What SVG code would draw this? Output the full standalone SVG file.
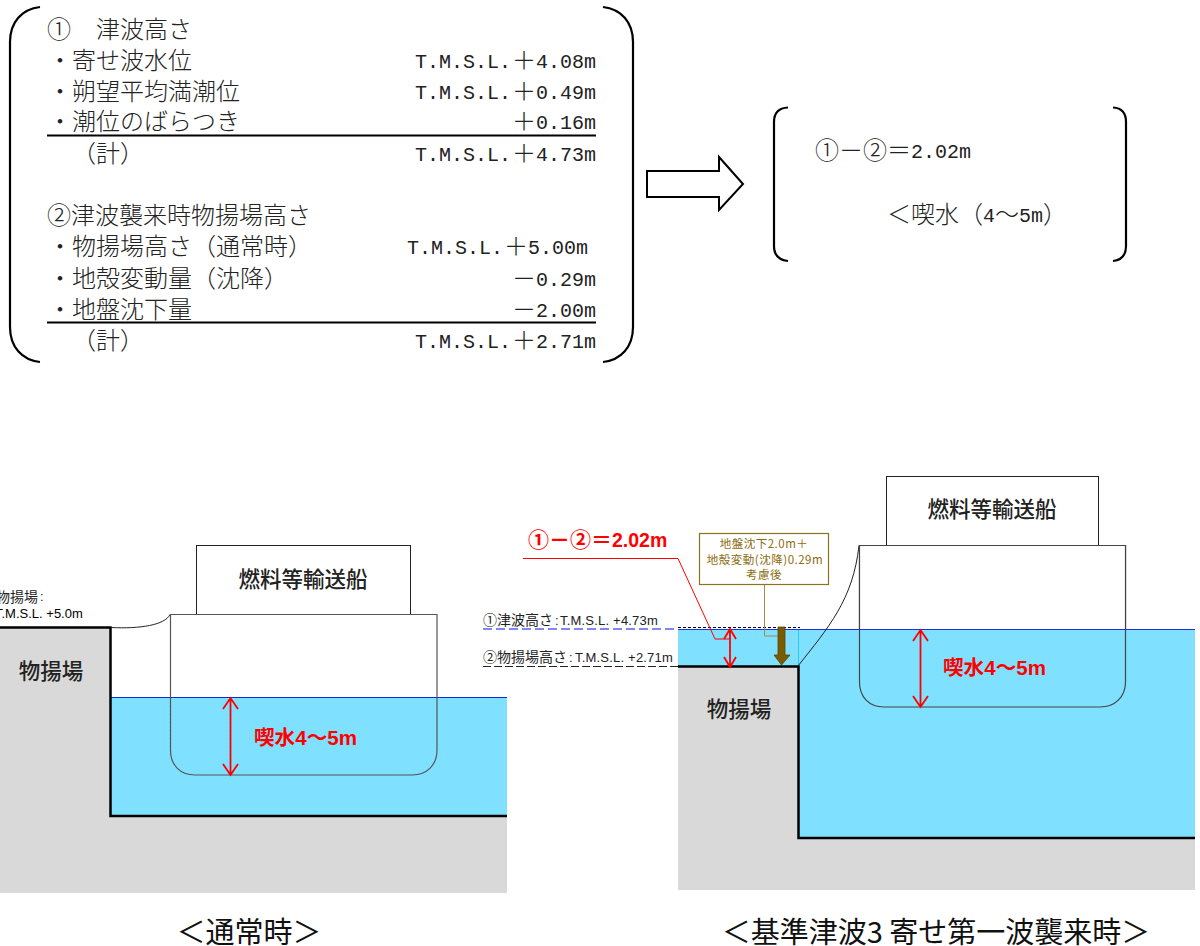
<svg xmlns="http://www.w3.org/2000/svg" width="1200" height="946" viewBox="0 0 1200 946">
<style>
text{font-family:"Noto Sans CJK JP","Liberation Sans",sans-serif;fill:#000}
.j{font-size:24px;fill:#222;font-weight:300}
.l{font-family:"Liberation Mono",monospace;font-size:20px;fill:#222}
.lab{font-size:14px;fill:#222}
.ll{font-family:"Liberation Sans",sans-serif;font-size:13px}
.big{font-size:21.500px;fill:#222;text-anchor:middle;font-weight:500}
.cap{font-size:29px;fill:#111;text-anchor:middle}
.red{fill:#f00;font-weight:700}
.box{font-size:11.500px;text-anchor:middle;fill:#8a6d10;letter-spacing:.5px}
.br{fill:none;stroke:#000;stroke-width:2.2}
.rule{stroke:#000;stroke-width:2}
.wall{fill:none;stroke:#000;stroke-width:2.5}
.hull{fill:none;stroke:#555;stroke-width:1.2}
.ra{fill:none;stroke:#f00;stroke-width:1.8}
.water{fill:url(#dots)}
.ground{fill:#d9d9d9}
</style>
<defs>
<pattern id="dots" width="4" height="4" patternUnits="userSpaceOnUse">
<rect width="4" height="4" fill="#7de0ff"/>
<rect width="1" height="1" fill="#8ae4ff"/>
<rect x="2" y="2" width="1" height="1" fill="#8ae4ff"/>
</pattern>
</defs>
<g id="calc-panel">
<path class="br" d="M40 7C22 9 10 22 10 42V327C10 347 22 360 40 362"/>
<path class="br" d="M603 7C621 9 633 22 633 42V327C633 347 621 360 603 362"/>
<text class="j" x="47" y="38">①</text><text class="j" x="96" y="38">津波高さ</text>
<text class="j" x="48" y="69">・寄せ波水位</text>
<text class="j" x="48" y="100">・朔望平均満潮位</text>
<text class="j" x="48" y="130">・潮位のばらつき</text>
<text class="j" x="72" y="162">（計）</text>
<text class="j" x="47" y="224">②津波襲来時物揚場高さ</text>
<text class="j" x="48" y="255">・物揚場高さ（通常時）</text>
<text class="j" x="48" y="287">・地殻変動量（沈降）</text>
<text class="j" x="48" y="318">・地盤沈下量</text>
<text class="j" x="72" y="349">（計）</text>
<g>
<text class="l" x="415" y="68">T.M.S.L.</text><text class="j" x="512" y="69">＋</text><text class="l" x="536" y="68">4.08m</text>
<text class="l" x="415" y="99">T.M.S.L.</text><text class="j" x="512" y="100">＋</text><text class="l" x="536" y="99">0.49m</text>
<text class="j" x="512" y="130">＋</text><text class="l" x="536" y="129">0.16m</text>
<text class="l" x="415" y="161">T.M.S.L.</text><text class="j" x="512" y="162">＋</text><text class="l" x="536" y="161">4.73m</text>
<text class="l" x="407" y="254">T.M.S.L.</text><text class="j" x="504" y="255">＋</text><text class="l" x="528" y="254">5.00m</text>
<text class="j" x="512" y="287">－</text><text class="l" x="536" y="286">0.29m</text>
<text class="j" x="512" y="318">－</text><text class="l" x="536" y="317">2.00m</text>
<text class="l" x="415" y="348">T.M.S.L.</text><text class="j" x="512" y="349">＋</text><text class="l" x="536" y="348">2.71m</text>
</g>
<line class="rule" x1="47" y1="135.500" x2="596" y2="135.500"/>
<line class="rule" x1="47" y1="322.500" x2="596" y2="322.500"/>
</g>
<g id="result-arrow"><path d="M647 171H719V157L743 184L719 210V197H647Z" fill="#fff" stroke="#000" stroke-width="2"/></g>
<g id="result-panel">
<path class="br" d="M788 107.500C779 108 774 113 774 122V246C774 255 779 260 788 261"/>
<path class="br" d="M1113 107.500C1122 108 1126 113 1126 122V246C1126 255 1122 260 1113 261"/>
<text class="j" x="815" y="159">①－②＝</text><text class="l" x="911" y="158">2.02m</text>
<text class="j" x="887" y="223">＜喫水（</text><text class="l" x="983" y="222">4</text><text class="j" x="995" y="223">～</text><text class="l" x="1019" y="222">5m</text><text class="j" x="1043" y="223">）</text>
</g>
<g id="normal-scene">
<rect class="ground" x="0" y="627" width="110" height="266"/>
<rect class="ground" x="110" y="816" width="397" height="77"/>
<rect class="water" x="110" y="697" width="397" height="119"/>
<line x1="110" y1="697.500" x2="507" y2="697.500" stroke="#0a28e0" stroke-width="1.2"/>
<path class="wall" d="M0 627.500H110.500V816H507"/>
<path d="M111 627.500C140 629 165 625 170 614.500" fill="none" stroke="#222" stroke-width="1"/>
<rect x="196.500" y="545.500" width="214" height="69" fill="#fff" stroke="#222" stroke-width="1"/>
<path class="hull" d="M170.500 614.500H437V750C437 765 427 775 412 775H195C180 775 170.500 765 170.500 750Z"/>
<g class="ra"><path d="M230.500 698V775M223 709L230.500 698L238 709M223 764L230.500 775L238 764"/></g>
<text class="big" x="51" y="679">物揚場</text>
<text class="big" x="303" y="587">燃料等輸送船</text>
<text class="red" x="254" y="745" style="font-size:20.600px">喫水<tspan style="font-family:'Liberation Sans'">4</tspan>～<tspan style="font-family:'Liberation Sans'">5m</tspan></text>
<text class="lab" x="-4" y="602">物揚場</text><text class="ll" x="40" y="601" style="fill:#222">:</text>
<text class="ll" x="-5" y="618">T.M.S.L. +5.0m</text>
<text class="cap" x="249" y="943">＜通常時＞</text>
</g>
<g id="tsunami-scene">
<rect class="ground" x="678" y="666" width="120" height="224"/>
<rect class="ground" x="798" y="838" width="397" height="52"/>
<rect class="water" x="678" y="629" width="120" height="37"/>
<rect class="water" x="798" y="629" width="397" height="209"/>
<line x1="798.500" y1="629" x2="798.500" y2="666" stroke="#30c8f0" stroke-width="1"/>
<path class="wall" d="M678 666.500H798.500V838H1195"/>
<line x1="678" y1="629.500" x2="1195" y2="629.500" stroke="#2030e0" stroke-width="1.2"/>
<line x1="483" y1="629" x2="678" y2="629" stroke="#5a60f0" stroke-width="1.5" stroke-dasharray="9 4"/>
<line x1="678" y1="627.500" x2="800" y2="627.500" stroke="#000" stroke-width="1.2" stroke-dasharray="3 2"/>
<line x1="483" y1="666.500" x2="678" y2="666.500" stroke="#222" stroke-width="1" stroke-dasharray="8 3"/>
<path d="M798 666C828 628 853 600 859 545.500" fill="none" stroke="#222" stroke-width="1"/>
<rect x="886.500" y="476.500" width="212" height="69" fill="#fff" stroke="#222" stroke-width="1"/>
<path d="M859.500 545.500H1125.500V682C1125.500 697 1115 707 1100 707H884C869 707 859.500 697 859.500 682Z" fill="none" stroke="#444" stroke-width="1.2"/>
<path d="M859.500 545.500H1125.500V629H859.500Z" fill="#fff"/>
<path d="M859.500 629V545.500H1125.500V629" fill="none" stroke="#444" stroke-width="1.2"/>
<line x1="859" y1="629.500" x2="1126" y2="629.500" stroke="#2030e0" stroke-width="1.2"/>
<g class="ra"><path d="M920.500 630V707M913 641L920.500 630L928 641M913 696L920.500 707L928 696"/></g>
<path d="M523 558.500H678L715 639H730" fill="none" stroke="#f00" stroke-width="1"/>
<g class="ra"><path d="M730 629V667M724 639L730 629L736 639M724 657L730 667L736 657"/></g>
<path d="M764.500 584V636H778" fill="none" stroke="#a08c50" stroke-width="1"/>
<path d="M778 627H785V655H790L781.500 665L774 655H778Z" fill="#7a5c00" stroke="#5c4400" stroke-width="0.8"/>
<rect x="699.500" y="533.500" width="129" height="51" fill="#fff" stroke="#8a7320" stroke-width="1.2"/>
<text class="box" x="764" y="548">地盤沈下2.0m＋</text>
<text class="box" x="765" y="564">地殻変動(沈降)0.29m</text>
<text class="box" x="764" y="579">考慮後</text>
<text class="big" x="739" y="717">物揚場</text>
<text class="big" x="992" y="517">燃料等輸送船</text>
<text class="red" x="943" y="675" style="font-size:20.600px">喫水<tspan style="font-family:'Liberation Sans'">4</tspan>～<tspan style="font-family:'Liberation Sans'">5m</tspan></text>
<text class="red" x="528" y="547" style="font-size:21px">①－②＝<tspan style="font-family:'Liberation Sans';font-size:19.500px">2.02m</tspan></text>
<text class="lab" x="483" y="625">①津波高さ</text><text class="ll" x="555" y="625" style="fill:#222">:</text><text class="ll" x="560" y="625" style="fill:#222;letter-spacing:.2px">T.M.S.L. +4.73m</text>
<text class="lab" x="483" y="662">②物揚場高さ</text><text class="ll" x="569" y="662" style="fill:#222">:</text><text class="ll" x="575" y="662" style="fill:#222;letter-spacing:.2px">T.M.S.L. +2.71m</text>
<text class="cap" x="936" y="943">＜基準津波3 寄せ第一波襲来時＞</text>
</g>
</svg>
